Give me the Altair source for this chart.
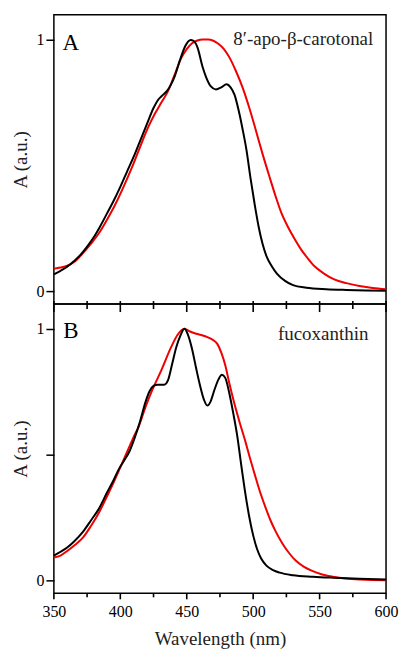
import altair as alt
import pandas as pd

# ---------------- Panel A: 8'-apo-beta-carotonal ----------------
a_black_wl = [350, 355, 360, 365, 370, 375, 380, 385, 390, 395, 400, 405, 410, 415, 420, 425,
              428, 431, 435, 438, 441, 445, 449, 453, 455, 458, 462, 465, 468, 472, 476, 480,
              483, 486, 489, 492, 495, 498, 501, 504, 507, 510, 514, 518, 524, 530, 540, 555,
              570, 585, 600]
a_black_abs = [0.068, 0.082, 0.098, 0.12, 0.145, 0.178, 0.215, 0.26, 0.31, 0.36, 0.415, 0.475,
               0.534, 0.599, 0.664, 0.728, 0.757, 0.775, 0.795, 0.82, 0.855, 0.92, 0.975, 0.998,
               0.995, 0.97, 0.89, 0.845, 0.815, 0.802, 0.81, 0.822, 0.81, 0.78, 0.72, 0.645,
               0.56, 0.45, 0.35, 0.26, 0.19, 0.14, 0.10, 0.07, 0.042, 0.025, 0.015, 0.009,
               0.006, 0.004, 0.003]

a_red_wl = [350, 355, 360, 366, 372, 378, 384, 390, 396, 402, 409, 415, 421, 426, 431, 436, 441,
            446, 450, 454, 458, 462, 466, 470, 474, 478, 482, 487, 492, 497, 502, 507, 512, 517,
            521, 526, 531, 536, 541, 546, 553, 561, 570, 580, 590, 600]
a_red_abs = [0.09, 0.095, 0.102, 0.12, 0.153, 0.19, 0.232, 0.285, 0.343, 0.41, 0.495, 0.575,
             0.652, 0.705, 0.751, 0.796, 0.862, 0.928, 0.962, 0.985, 0.996, 1.0, 1.0, 0.995,
             0.982, 0.962, 0.93, 0.875, 0.81, 0.73, 0.64, 0.547, 0.46, 0.376, 0.315, 0.258,
             0.21, 0.167, 0.132, 0.101, 0.072, 0.048, 0.033, 0.022, 0.014, 0.009]

# ---------------- Panel B: fucoxanthin ----------------
b_black_wl = [350, 355, 360, 365, 372, 378, 384, 390, 395, 399, 403, 407, 411, 415, 419, 422,
              425, 428, 433, 436, 439, 442, 445, 448.3, 451, 454, 457, 460, 463, 465.5, 468,
              471, 474, 476.5, 479, 482, 485, 488, 491, 494, 497, 500, 503, 506, 510, 515, 520,
              530, 545, 560, 580, 600]
b_black_abs = [0.10, 0.115, 0.132, 0.155, 0.195, 0.24, 0.287, 0.35, 0.40, 0.444, 0.478, 0.515,
               0.57, 0.635, 0.71, 0.752, 0.773, 0.778, 0.778, 0.797, 0.86, 0.925, 0.97, 1.0,
               0.975, 0.92, 0.845, 0.775, 0.718, 0.695, 0.712, 0.76, 0.80, 0.817, 0.805, 0.745,
               0.665, 0.575, 0.46, 0.35, 0.255, 0.18, 0.125, 0.088, 0.06, 0.042, 0.032, 0.022,
               0.016, 0.012, 0.008, 0.005]

b_red_wl = [350, 355, 360, 366, 372, 378, 384.4, 390, 395, 399, 405, 410, 414, 419, 424, 431,
            438.5, 443, 446, 448.3, 452, 456, 461, 465.5, 469, 473, 476, 479, 482, 486, 490,
            494, 497.4, 501, 505, 509, 513, 517, 522, 527, 532, 538, 544, 552, 561, 570, 581,
            600]
b_red_abs = [0.092, 0.10, 0.118, 0.143, 0.172, 0.218, 0.275, 0.335, 0.39, 0.438, 0.51, 0.57,
             0.614, 0.69, 0.756, 0.837, 0.93, 0.975, 0.994, 1.0, 0.99, 0.982, 0.975, 0.967,
             0.958, 0.94, 0.905, 0.855, 0.785, 0.70, 0.625, 0.555, 0.49, 0.425, 0.355, 0.295,
             0.24, 0.195, 0.148, 0.11, 0.08, 0.056, 0.04, 0.025, 0.015, 0.009, 0.005, 0.002]

# annotation texts (data coordinates)
a_letter = {"wl": [356.4], "A": [0.96], "t": ["A"]}
a_name = {"wl": [590.4], "A": [0.98], "t": ["8\u2032-apo-\u03b2-carotonal"]}
b_letter = {"wl": [357.0], "A": [0.965], "t": ["B"]}
b_name = {"wl": [586.7], "A": [0.957], "t": ["fucoxanthin"]}

x_major = [350, 400, 450, 500, 550, 600]
x_minor = [375, 425, 475, 525, 575]

FONT = "Liberation Serif"
W, H = 333, 290
RED = "#f00000"
xscale = alt.Scale(domain=[350, 600], nice=False, zero=False)
yscale = alt.Scale(domain=[-0.05, 1.098], nice=False, zero=False)


def tick_marks(values, center, length):
    return alt.Chart(pd.DataFrame({"wl": values})).mark_tick(
        color="black", thickness=1.6, size=length, orient="vertical", opacity=1).encode(
        x=alt.X("wl:Q", scale=xscale), y=alt.value(center))


def panel(bw, ba, rw, ra, letter, name, top):
    common = dict(domain=False, grid=False, tickColor="black", tickWidth=1.5)
    if top:
        xaxis = alt.Axis(values=x_major, labels=False, ticks=False, title=None,
                         domain=False, grid=False)
        yaxis = alt.Axis(values=[0, 1], labelExpr="datum.value == 1 ? '1' : '0'",
                         title="A (a.u.)", tickSize=8, labelPadding=2, titlePadding=5,
                         **common)
        ticks = [tick_marks(x_major, H + 2.5, 11), tick_marks(x_minor, H + 1, 8)]
    else:
        xaxis = alt.Axis(values=x_major, title="Wavelength (nm)", ticks=False,
                         labelFlush=False, labelPadding=10, titlePadding=10,
                         domain=False, grid=False)
        yaxis = alt.Axis(values=[0, 0.5, 1],
                         labelExpr="datum.value == 1 ? '1' : (datum.value == 0 ? '0' : '')",
                         title="A (a.u.)", tickSize=8, labelPadding=2, titlePadding=5,
                         **common)
        ticks = [tick_marks(x_major, H + 3, 6), tick_marks(x_minor, H + 2, 4)]
    red_df = pd.DataFrame({"wl": rw, "A": ra})
    black_df = pd.DataFrame({"wl": bw, "A": ba})
    red = alt.Chart(red_df).mark_line(color=RED, strokeWidth=2, interpolate="monotone").encode(
        x=alt.X("wl:Q", scale=xscale, axis=xaxis),
        y=alt.Y("A:Q", scale=yscale, axis=yaxis),
    )
    black = alt.Chart(black_df).mark_line(color="black", strokeWidth=2,
                                          interpolate="monotone").encode(
        x=alt.X("wl:Q", scale=xscale), y=alt.Y("A:Q", scale=yscale))
    lt = alt.Chart(pd.DataFrame(letter)).mark_text(
        align="left", baseline="alphabetic", font=FONT, fontSize=23, color="black").encode(
        x=alt.X("wl:Q", scale=xscale), y=alt.Y("A:Q", scale=yscale), text="t:N")
    nm = alt.Chart(pd.DataFrame(name)).mark_text(
        align="right", baseline="alphabetic", font=FONT, fontSize=19, color="#222222").encode(
        x=alt.X("wl:Q", scale=xscale), y=alt.Y("A:Q", scale=yscale), text="t:N")
    return alt.layer(red, black, *ticks, lt, nm).properties(width=W, height=H)


pa = panel(a_black_wl, a_black_abs, a_red_wl, a_red_abs, a_letter, a_name, True)
pb = panel(b_black_wl, b_black_abs, b_red_wl, b_red_abs, b_letter, b_name, False)

chart = alt.vconcat(pa, pb, spacing=0, bounds="flush").properties(
    padding={"left": 3, "top": 5, "right": 0, "bottom": 0}, background="white"
).configure_view(
    stroke="black", strokeWidth=1.5
).configure_axis(
    labelFont=FONT, titleFont=FONT, labelFontSize=16, titleFontSize=19,
    titleFontWeight="normal", labelColor="black", titleColor="#222222"
)

chart.save("out.html", embed_options={"renderer": "svg", "actions": False})
